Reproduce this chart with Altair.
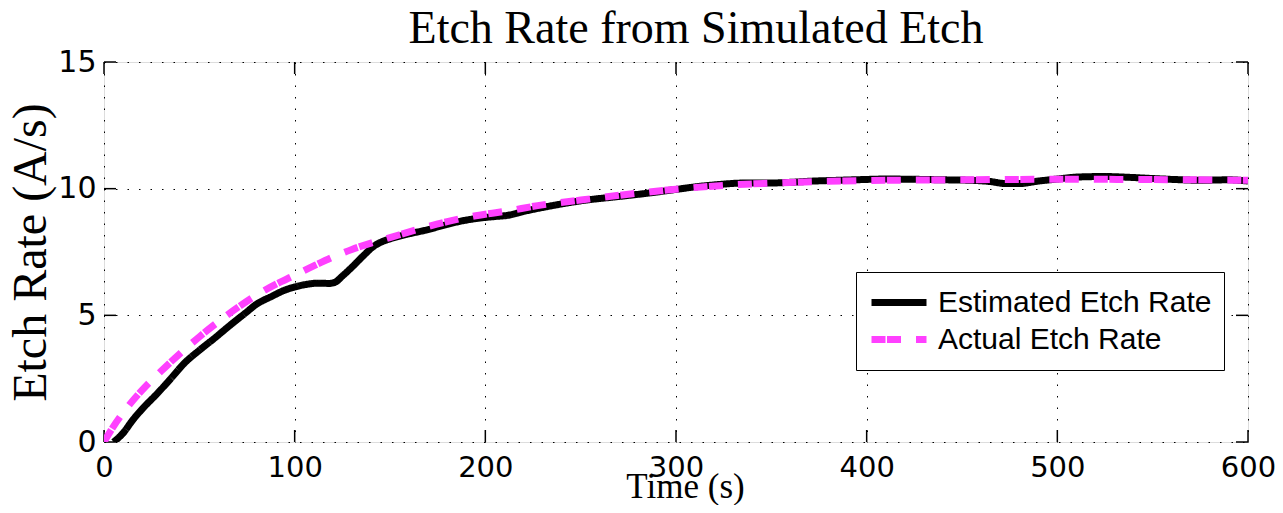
import altair as alt
import pandas as pd

# ---- data ----
est_t = [5, 10, 15, 20, 28, 35, 42, 50, 58, 66, 74, 80, 88, 94, 100, 106, 112, 118, 121,
         125, 130, 136, 141, 145, 150, 160, 168, 178, 186, 195, 205, 212, 220, 233, 250,
         271, 285, 300, 310, 322, 335, 347, 360, 372, 385, 398, 410, 425, 440, 455, 465,
         473, 480, 490, 500, 511, 525, 537, 550, 562, 575, 590, 600]
est_v = [0.0, 0.35, 0.86, 1.3, 1.92, 2.5, 3.1, 3.62, 4.1, 4.6, 5.08, 5.44, 5.75, 5.97, 6.12,
         6.22, 6.27, 6.26, 6.3, 6.55, 6.9, 7.35, 7.7, 7.88, 8.02, 8.22, 8.35, 8.55, 8.7, 8.82,
         8.9, 8.95, 9.1, 9.3, 9.52, 9.7, 9.82, 9.97, 10.07, 10.16, 10.22, 10.22, 10.25, 10.3,
         10.33, 10.36, 10.38, 10.37, 10.35, 10.33, 10.28, 10.2, 10.2, 10.3, 10.38, 10.46,
         10.48, 10.45, 10.4, 10.36, 10.33, 10.35, 10.3]

act_t = [0, 5, 10, 20, 30, 40, 50, 60, 70, 80, 90, 100, 110, 120, 130, 140, 150, 165, 180,
         195, 210, 230, 250, 275, 300, 325, 350, 375, 400, 450, 500, 550, 600]
act_v = [0.0, 0.62, 1.15, 2.05, 2.8, 3.5, 4.15, 4.75, 5.3, 5.8, 6.22, 6.58, 6.95, 7.3, 7.6,
         7.85, 8.07, 8.4, 8.7, 8.93, 9.1, 9.36, 9.55, 9.78, 9.98, 10.13, 10.22, 10.28, 10.32,
         10.35, 10.37, 10.36, 10.33]

series_names = ["Estimated Etch Rate", "Actual Etch Rate"]
series_colors = ["#000000", "#ff40ff"]
series_dashes = [[1, 0], [14, 1.5, 14, 15]]

x_ticks = [0, 100, 200, 300, 400, 500, 600]
y_ticks = [0, 5, 10, 15]

# ---- layout ----
W, H = 1144, 380
TICK = 12

est_df = pd.DataFrame({"t": est_t, "v": est_v, "series": series_names[0]})
act_df = pd.DataFrame({"t": act_t, "v": act_v, "series": series_names[1]})
xt_df = pd.DataFrame({"t": x_ticks})
yt_df = pd.DataFrame({"v": y_ticks})

xs = alt.Scale(domain=[0, 600], nice=False, zero=False)
ys = alt.Scale(domain=[0, 15], nice=False, zero=False)

xaxis = alt.Axis(values=x_ticks, grid=True, gridDash=[1.5, 10], gridColor="black",
                 gridOpacity=1, gridWidth=1, ticks=False, domain=False,
                 labelFont="DejaVu Sans", labelFontSize=29, labelColor="black",
                 labelPadding=11, labelFlush=False, labelOverlap=False,
                 title="Time (s)", titleFont="Liberation Serif", titleFontSize=35,
                 titleFontWeight="normal", titleColor="black", titleX=W / 2 + 9, titleY=55,
                 titleBaseline="alphabetic", titleAlign="center")
yaxis = alt.Axis(values=y_ticks, grid=True, gridDash=[1.5, 10], gridColor="black",
                 gridOpacity=1, gridWidth=1, ticks=False, domain=False,
                 labelFont="DejaVu Sans", labelFontSize=30, labelColor="black",
                 labelPadding=8, labelFlush=False, labelOverlap=False,
                 title="Etch Rate (A/s)", titleFont="Liberation Serif", titleFontSize=48,
                 titleFontWeight="normal", titleColor="black", titleX=-59, titleY=H / 2,
                 titleAngle=-90, titleBaseline="alphabetic", titleAlign="center")

x_enc = alt.X("t:Q", scale=xs, axis=xaxis)
y_enc = alt.Y("v:Q", scale=ys, axis=yaxis)

legend = alt.Legend(title=None, orient="none", legendX=752, legendY=210,
                    symbolType="stroke", symbolSize=3025, symbolStrokeWidth=7,
                    labelFont="Liberation Sans", labelFontSize=30, labelColor="black",
                    padding=12, rowPadding=0, clipHeight=37, labelOffset=8,
                    strokeColor="black", fillColor="white", cornerRadius=0,
                    labelLimit=500)

color_enc = alt.Color("series:N", scale=alt.Scale(domain=series_names, range=series_colors),
                      legend=legend)
dash_enc = alt.StrokeDash("series:N", scale=alt.Scale(domain=series_names, range=series_dashes),
                          legend=legend)

est_line = alt.Chart(est_df).mark_line(strokeWidth=7, clip=True, interpolate="monotone").encode(
    x=x_enc, y=y_enc, color=color_enc, strokeDash=dash_enc)
act_line = alt.Chart(act_df).mark_line(strokeWidth=7, clip=True, interpolate="monotone").encode(
    x=x_enc, y=y_enc, color=color_enc, strokeDash=dash_enc)

tick_style = dict(color="black", strokeWidth=1.5)
bottom_ticks = alt.Chart(xt_df).mark_rule(**tick_style).encode(
    x=x_enc, y=alt.value(H), y2=alt.value(H - TICK))
top_ticks = alt.Chart(xt_df).mark_rule(**tick_style).encode(
    x=x_enc, y=alt.value(0), y2=alt.value(TICK))
left_ticks = alt.Chart(yt_df).mark_rule(**tick_style).encode(
    y=y_enc, x=alt.value(0), x2=alt.value(TICK))
right_ticks = alt.Chart(yt_df).mark_rule(**tick_style).encode(
    y=y_enc, x=alt.value(W), x2=alt.value(W - TICK))

chart = alt.layer(
    bottom_ticks, top_ticks, left_ticks, right_ticks, est_line, act_line
).properties(
    width=W, height=H,
    title=alt.TitleParams("Etch Rate from Simulated Etch", font="Liberation Serif",
                          fontSize=46, fontWeight="normal", color="black",
                          anchor="middle", offset=-6, dx=20),
    autosize=alt.AutoSizeParams(type="none"),
    padding={"left": 96, "top": 54, "right": 27, "bottom": 63},
).configure_view(
    stroke="black", strokeWidth=1.5
).configure_legend(
    strokeWidth=2
).configure(background="white")

chart.save("out.html", embed_options={"renderer": "svg", "actions": False})
